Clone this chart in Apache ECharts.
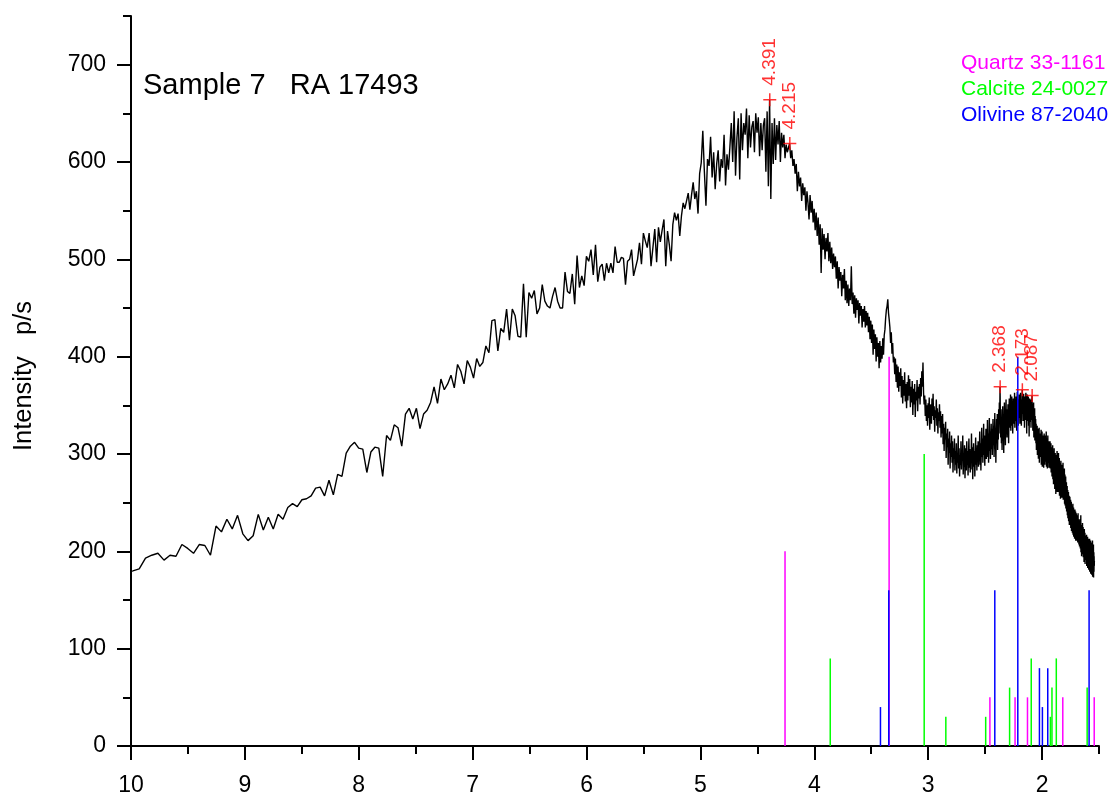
<!DOCTYPE html>
<html>
<head>
<meta charset="utf-8">
<script src="https://cdn.jsdelivr.net/npm/echarts@6/dist/echarts.min.js"></script>
<style>
  html, body { margin: 0; padding: 0; background: #ffffff; }
  #chart { width: 1117px; height: 792px; }
</style>
</head>
<body>
<div id="chart"></div>
<script>
const FONT = 'Liberation Sans, Arial, Helvetica, sans-serif';

// Cu K-alpha scan, 2-theta from 8.80 deg in 0.05 deg steps (counts per second)
const WAVELENGTH = 1.5406;
const START_2THETA = 8.80;
const STEP_2THETA = 0.05;
const intensity = [
  178, 180, 182, 193,
  196, 198, 191, 196, 195, 207, 203, 198, 207, 206, 196, 226, 220, 233, 223, 237, 218, 211, 216, 238,
  222, 235, 223, 238, 233, 245, 249, 246, 253, 254, 257, 265, 266, 257, 273, 258, 279, 277, 301, 308,
  312, 306, 305, 281, 302, 307, 306, 277, 319, 314, 330, 327, 308, 341, 347, 336, 347, 326, 341, 345,
  353, 369, 352, 377, 366, 372, 381, 368, 392, 385, 372, 396, 389, 378, 398, 390, 394, 411, 404, 437,
  438, 406, 429, 425, 449, 417, 449, 442, 421, 420, 475, 420, 466, 460, 468, 444, 450, 474, 457, 452,
  450, 462, 471, 457, 450, 450, 487, 467, 465, 485, 454, 504, 471, 483, 473, 503, 498, 510, 484, 515,
  477, 492, 495, 478, 496, 486, 496, 486, 513, 497, 497, 502, 501, 474, 498, 500, 510, 483, 483, 500,
  517, 495, 527, 519, 512, 527, 493, 491, 531, 497, 533, 518, 530, 541, 493, 529, 515, 498, 536, 548,
  540, 547, 524, 545, 558, 552, 560, 568, 551, 566, 579, 562, 570, 547, 588, 599, 632, 590, 555, 603,
  596, 626, 584, 610, 572, 598, 612, 580, 603, 594, 628, 576, 608, 592, 615, 640, 600, 652, 586, 625,
  645, 582, 650, 612, 640, 628, 655, 604, 648, 615, 636, 642, 610, 650, 630, 646, 606, 640, 612, 638,
  645, 590, 652, 575, 664, 562, 640, 598, 645, 602, 638, 618, 642, 600, 630, 615, 628, 604, 618, 610,
  612, 619, 604, 612, 596, 603, 588, 598, 570, 590, 575, 584, 560, 578, 566, 574, 550, 570, 558, 541,
  566, 548, 560, 538, 552, 530, 548, 524, 543, 515, 536, 486, 532, 510, 526, 500, 522, 508, 527, 498,
  518, 496, 512, 490, 506, 492, 503, 480, 498, 470, 492, 478, 487, 462, 484, 470, 490, 458, 478, 455,
  474, 452, 470, 458, 493, 454, 466, 444, 463, 440, 460, 448, 458, 434, 455, 442, 452, 430, 449, 436,
  452, 430, 447, 432, 445, 425, 441, 418, 437, 414, 433, 402, 428, 408, 423, 395, 420, 400, 414, 388,
  416, 394, 411, 398, 419, 402, 422, 428, 440, 448, 452, 459, 445, 438, 430, 414, 425, 403, 414, 394,
  400, 382, 398, 374, 392, 368, 390, 364, 384, 370, 388, 358, 380, 352, 376, 360, 384, 354, 372, 347,
  374, 355, 381, 360, 377, 348, 369, 353, 375, 340, 367, 351, 372, 338, 364, 355, 376, 344, 369, 357,
  372, 351, 378, 359, 385, 369, 394, 363, 351, 360, 339, 356, 334, 350, 329, 352, 337, 358, 325, 345,
  351, 331, 357, 339, 362, 335, 349, 323, 345, 337, 356, 329, 347, 321, 343, 334, 351, 327, 344, 317,
  339, 321, 341, 310, 331, 303, 327, 315, 333, 296, 321, 307, 326, 289, 316, 301, 323, 285, 311, 297,
  319, 291, 313, 281, 306, 295, 316, 283, 303, 289, 311, 280, 301, 291, 319, 285, 306, 277, 299, 289,
  313, 284, 303, 293, 319, 279, 301, 287, 309, 275, 297, 306, 283, 313, 289, 303, 278, 299, 316, 286,
  305, 281, 301, 291, 321, 284, 307, 274, 299, 311, 287, 303, 277, 297, 317, 289, 306, 283, 309, 294,
  313, 287, 306, 295, 323, 289, 311, 283, 304, 327, 297, 316, 291, 309, 331, 299, 319, 288, 313, 301,
  326, 295, 317, 304, 335, 297, 321, 291, 313, 337, 303, 323, 295, 319, 331, 305, 326, 299, 317, 336,
  309, 329, 297, 321, 342, 305, 326, 291, 319, 336, 311, 341, 304, 331, 315, 346, 321, 353, 334, 369,
  340, 317, 346, 311, 337, 304, 331, 349, 314, 339, 301, 329, 353, 319, 343, 309, 336, 356, 321, 341,
  317, 346, 325, 351, 329, 311, 343, 357, 327, 349, 334, 361, 324, 347, 337, 359, 329, 351, 321, 345,
  357, 331, 351, 339, 363, 327, 349, 356, 334, 359, 341, 324, 351, 364, 337, 356, 329, 353, 343, 361,
  337, 357, 331, 351, 363, 339, 356, 329, 353, 344, 366, 341, 359, 334, 353, 362, 337, 357, 327, 351,
  359, 335, 353, 363, 339, 356, 321, 349, 361, 334, 353, 341, 359, 329, 351, 318, 346, 357, 333, 351,
  339, 356, 327, 349, 337, 353, 360, 335, 351, 324, 346, 331, 353, 317, 341, 327, 347, 314, 339, 321,
  336, 311, 331, 304, 327, 314, 329, 299, 323, 307, 326, 295, 319, 303, 327, 291, 315, 301, 321, 297,
  317, 299, 325, 289, 313, 303, 323, 287, 311, 297, 319, 293, 313, 286, 307, 321, 295, 315, 289, 309,
  319, 292, 311, 299, 323, 287, 307, 295, 316, 285, 305, 319, 291, 309, 297, 313, 286, 306, 293, 311,
  299, 313, 285, 305, 291, 311, 281, 301, 289, 307, 277, 299, 284, 309, 274, 296, 303, 269, 293, 283,
  306, 274, 297, 264, 289, 301, 269, 293, 259, 286, 299, 267, 291, 277, 303, 261, 285, 296, 265, 289,
  279, 301, 261, 287, 271, 296, 257, 281, 291, 264, 285, 254, 277, 293, 261, 283, 269, 289, 255, 277,
  286, 257, 279, 265, 291, 253, 273, 283, 255, 276, 261, 285, 249, 271, 279, 247, 267, 257, 277, 244,
  266, 249, 271, 241, 259, 247, 267, 237, 256, 263, 234, 253, 243, 261, 231, 251, 239, 257, 227, 247,
  239, 256, 229, 249, 235, 253, 224, 245, 233, 251, 221, 241, 247, 227, 243, 219, 239, 231, 249, 217,
  237, 227, 245, 215, 235, 241, 221, 239, 213, 231, 243, 219, 235, 225, 241, 211, 231, 223, 239, 214,
  233, 219, 237, 211, 229, 217, 235, 209, 227, 239, 213, 229, 219, 233, 207, 225, 215, 231, 205, 223,
  229, 211, 233, 203, 223, 213, 237, 199, 219, 207, 227, 195, 215, 223, 201, 221, 209, 229, 197, 216,
  207, 225, 194, 213, 219, 199, 217, 189, 209, 223, 195, 213, 203, 219, 187, 207, 215, 193, 211, 199,
  216, 191, 209, 197, 217, 185, 205, 213, 189, 207, 195, 215, 183, 203, 211, 187, 205, 193, 213, 181,
  201, 209, 185, 205, 193, 213, 179, 199, 207, 183, 203, 189, 211, 177, 197, 205, 181, 201, 191, 209,
  176, 197, 203, 181, 199, 187, 211, 174, 195, 201, 179, 197, 185, 207, 173, 193, 199, 179, 195, 185,
  190
];

// Reference stick patterns: [d-spacing (Å), plotted height]
const quartz = [[4.257, 200], [3.343, 400], [2.458, 50], [2.237, 50], [2.128, 50], [1.818, 50], [1.542, 50]];
const calcite = [[3.860, 90], [3.035, 300], [2.845, 30], [2.495, 30], [2.285, 60], [2.095, 90],
                 [1.927, 30], [1.913, 60], [1.875, 90], [1.604, 60]];
const olivine = [[3.419, 40], [3.346, 160], [2.415, 160], [2.213, 400], [2.023, 80], [1.997, 40],
                 [1.950, 80], [1.587, 160]];

// Labelled reflections: [d-spacing, intensity]
const peaks = [[4.391, 664], [4.215, 619], [2.368, 369], [2.173, 366], [2.087, 360]];

// Axis ticks
const xMajorTicks = [2, 3, 4, 5, 6, 7, 8, 9, 10];
const xMinorTicks = [1.5, 2.5, 3.5, 4.5, 5.5, 6.5, 7.5, 8.5, 9.5];
const yMajorTicks = [0, 100, 200, 300, 400, 500, 600, 700];
const yMinorTicks = [50, 150, 250, 350, 450, 550, 650, 750];

const phases = [
  { name: 'Quartz 33-1161', color: '#ff00ff', sticks: quartz },
  { name: 'Calcite 24-0027', color: '#00ff00', sticks: calcite },
  { name: 'Olivine 87-2040', color: '#0000ff', sticks: olivine }
];

function dSpacing(twoTheta) {
  return WAVELENGTH / (2 * Math.sin(twoTheta / 2 * Math.PI / 180));
}

const pattern = intensity.map((v, i) => [dSpacing(START_2THETA + i * STEP_2THETA), v]);

const axisLineStyle = { color: '#000', width: 2 };

function stickSeries(phase) {
  return {
    type: 'custom',
    name: phase.name,
    silent: true,
    z: 3,
    encode: { x: 0, y: 1 },
    data: phase.sticks,
    renderItem: function (params, api) {
      const base = api.coord([api.value(0), 0]);
      const top = api.coord([api.value(0), api.value(1)]);
      return {
        type: 'line',
        shape: { x1: base[0], y1: base[1], x2: top[0], y2: top[1] },
        style: { stroke: phase.color, lineWidth: 1.5 }
      };
    }
  };
}

const chart = echarts.init(document.getElementById('chart'), null, { renderer: 'canvas' });

chart.setOption({
  animation: false,
  backgroundColor: '#ffffff',
  grid: { left: 131, right: 18, top: 16, bottom: 46, containLabel: false, outerBoundsMode: 'none' },
  xAxis: [
    {
      type: 'value', min: 1.5, max: 10, inverse: true, position: 'bottom',
      axisLine: { show: true, lineStyle: axisLineStyle },
      axisTick: { show: true, inside: false, length: 14, lineStyle: axisLineStyle, customValues: xMajorTicks },
      axisLabel: { show: true, margin: 28, color: '#000', fontSize: 23, fontFamily: FONT, customValues: xMajorTicks },
      splitLine: { show: false }
    },
    {
      type: 'value', min: 1.5, max: 10, inverse: true, position: 'bottom',
      axisLine: { show: false },
      axisTick: { show: true, inside: false, length: 8, lineStyle: axisLineStyle, customValues: xMinorTicks },
      axisLabel: { show: false },
      splitLine: { show: false }
    }
  ],
  yAxis: [
    {
      type: 'value', min: 0, max: 750, position: 'left',
      axisLine: { show: true, lineStyle: axisLineStyle },
      axisTick: { show: true, inside: false, length: 14, lineStyle: axisLineStyle, customValues: yMajorTicks },
      axisLabel: { show: true, margin: 25, color: '#000', fontSize: 23, fontFamily: FONT, customValues: yMajorTicks },
      splitLine: { show: false }
    },
    {
      type: 'value', min: 0, max: 750, position: 'left',
      axisLine: { show: false },
      axisTick: { show: true, inside: false, length: 8, lineStyle: axisLineStyle, customValues: yMinorTicks },
      axisLabel: { show: false },
      splitLine: { show: false }
    }
  ],
  graphic: [
    {
      type: 'text', x: 143, y: 86, silent: true,
      style: { text: 'Sample 7   RA 17493', fill: '#000', fontSize: 29, fontFamily: FONT, align: 'left', verticalAlign: 'middle' }
    },
    {
      type: 'text', x: 24, y: 376, rotation: Math.PI / 2, silent: true,
      style: { text: 'Intensity   p/s', fill: '#000', fontSize: 25.5, fontFamily: FONT, align: 'center', verticalAlign: 'middle' }
    }
  ].concat(phases.map((p, i) => ({
    type: 'text', x: 961, y: 63 + i * 26, silent: true,
    style: { text: p.name, fill: p.color, fontSize: 21, fontFamily: FONT, align: 'left', verticalAlign: 'middle' }
  }))),
  series: [
    {
      type: 'line',
      name: 'pattern',
      data: pattern,
      showSymbol: false,
      silent: true,
      z: 2,
      lineStyle: { color: '#000', width: 1.4 },
      clip: true
    }
  ].concat(phases.map(stickSeries)).concat([
    {
      type: 'scatter',
      name: 'peaks',
      data: peaks,
      silent: true,
      z: 5,
      symbol: 'path://M0,6L12,6M6,0L6,12',
      symbolSize: 13,
      itemStyle: { color: 'none', borderColor: '#ff0000', borderWidth: 1.5 },
      label: {
        show: true, position: 'top', distance: 5, rotate: 90,
        align: 'left', verticalAlign: 'middle',
        color: '#ff0000', fontSize: 19, fontFamily: FONT,
        formatter: function (p) { return p.value[0].toFixed(3); }
      }
    }
  ])
});
</script>
</body>
</html>
